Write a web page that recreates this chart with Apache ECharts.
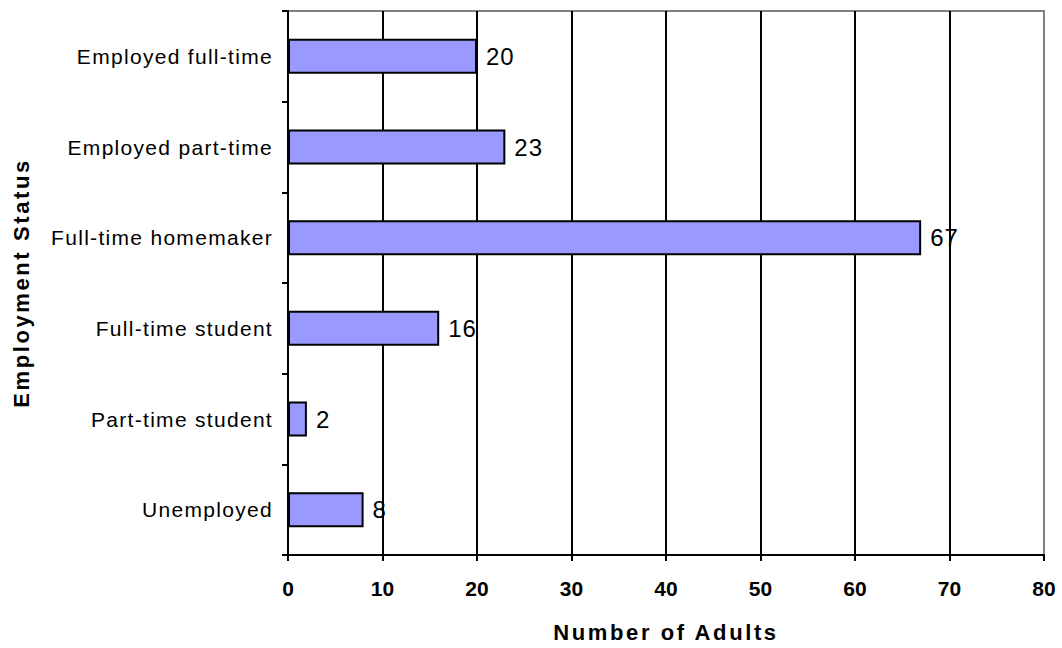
<!DOCTYPE html>
<html>
<head>
<meta charset="utf-8">
<title>Employment Status</title>
<script src="https://cdn.jsdelivr.net/npm/echarts@6/dist/echarts.min.js"></script>
<style>
  html, body { margin: 0; padding: 0; background: #fff; }
  #chart { width: 1062px; height: 648px; }
  /* loose letter spacing of the original spreadsheet typography */
  #chart text[style*="21px"]:not([style*="bold"]) { letter-spacing: 1.3px; }
  #chart text[style*="24px"] { letter-spacing: 1px; }
  #chart text[style*="22px"][style*="bold"] { letter-spacing: 2.6px; }
</style>
</head>
<body>
<div id="chart"></div>
<script>
// Employment status categories, listed top to bottom
const categories = [
  'Employed full-time',
  'Employed part-time',
  'Full-time homemaker',
  'Full-time student',
  'Part-time student',
  'Unemployed'
];
// Number of adults in each category
const adults = [20, 23, 67, 16, 2, 8];
// Value axis range and step
const xMin = 0;
const xMax = 80;
const xStep = 10;

const FONT = '"Liberation Sans", Arial, Helvetica, sans-serif';

const chart = echarts.init(document.getElementById('chart'), null, { renderer: 'svg' });

chart.setOption({
  animation: false,
  backgroundColor: '#ffffff',
  grid: {
    left: 288,
    right: 18,
    top: 11,
    bottom: 93,
    show: true,
    borderColor: '#808080',
    borderWidth: 2,
    backgroundColor: '#ffffff'
  },
  xAxis: {
    type: 'value',
    min: xMin,
    max: xMax,
    interval: xStep,
    name: 'Number of Adults',
    nameLocation: 'middle',
    nameGap: 66,
    nameTextStyle: { fontFamily: FONT, fontSize: 22, fontWeight: 'bold', color: '#000' },
    axisLine: { show: true, lineStyle: { color: '#000', width: 2 } },
    axisTick: { show: true, length: 6, lineStyle: { color: '#000', width: 2 } },
    axisLabel: { fontFamily: FONT, fontSize: 21, fontWeight: 'bold', color: '#000', margin: 23 },
    splitLine: { show: true, showMaxLine: false, lineStyle: { color: '#000', width: 2 } }
  },
  yAxis: {
    type: 'category',
    inverse: true,
    data: categories,
    name: 'Employment Status',
    nameLocation: 'middle',
    nameRotate: 90,
    nameGap: 256,
    nameTextStyle: { fontFamily: FONT, fontSize: 22, fontWeight: 'bold', color: '#000' },
    axisLine: { show: true, lineStyle: { color: '#000', width: 2 } },
    axisTick: { show: true, length: 6, lineStyle: { color: '#000', width: 2 } },
    axisLabel: { fontFamily: FONT, fontSize: 21, color: '#000', margin: 15 },
    splitLine: { show: false }
  },
  series: [{
    type: 'bar',
    data: adults,
    barWidth: 35,
    itemStyle: { color: '#9999FF', borderColor: '#000', borderWidth: 2 },
    label: {
      show: true,
      position: 'right',
      distance: 9,
      fontFamily: FONT,
      fontSize: 24,
      color: '#000'
    },
    emphasis: { disabled: true }
  }]
});
</script>
</body>
</html>
